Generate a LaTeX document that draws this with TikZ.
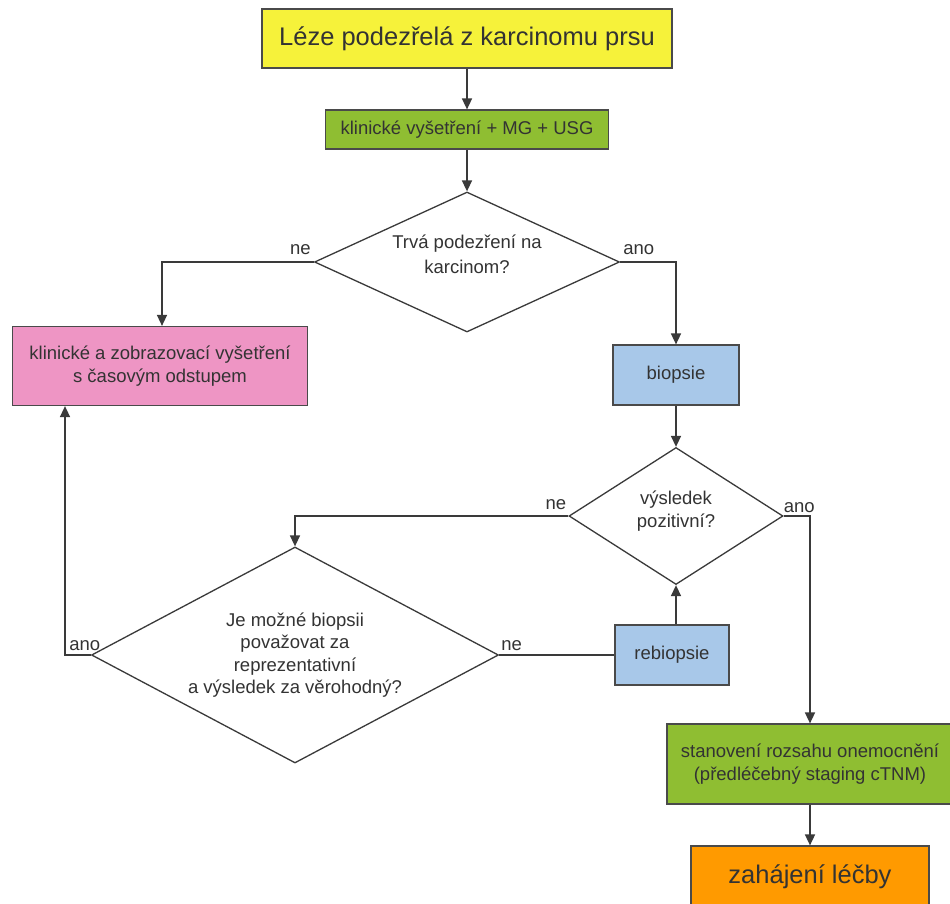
\documentclass[tikz,border=0pt]{standalone}
\usepackage{fontspec}
\setmainfont{Liberation Sans}
\usetikzlibrary{shapes.geometric,arrows.meta}
\definecolor{cyellow}{HTML}{F6F23A}
\definecolor{cgreen}{HTML}{8FBE32}
\definecolor{cpink}{HTML}{EE95C4}
\definecolor{cblue}{HTML}{A8C8E9}
\definecolor{corange}{HTML}{FF9A00}
\definecolor{edge}{HTML}{4A4A4A}
\definecolor{linec}{HTML}{3A3A3A}
\definecolor{txt}{HTML}{333333}
\begin{document}
\begin{tikzpicture}[x=1pt,y=-1pt,
  font=\fontsize{18.5}{22.5}\selectfont,
  box/.style={draw=edge, line width=1.2pt, rectangle, inner sep=2pt, align=center, text=txt},
  dia/.style={draw=linec, line width=1.3pt, diamond, aspect=2, inner sep=0pt, align=center, text=txt},
  conn/.style={draw=linec, line width=1.5pt},
  arr/.style={conn, -{Triangle[length=11pt,width=10pt]}},
  lbl/.style={text=txt, inner sep=1pt},
  big/.style={font=\fontsize{25.5}{30}\selectfont}]
\useasboundingbox (0,0) rectangle (950,903);
\fill[white] (0,0) rectangle (950,903);

\node[box, fill=cyellow, big, minimum width=410pt, minimum height=59pt] (start) at (467,38.5) {Léze podezřelá z karcinomu prsu};
\node[box, fill=cgreen, minimum width=283pt, minimum height=39pt] (exam) at (467,129.5) {klinické vyšetření + MG + USG};
\node[dia, minimum width=305pt, minimum height=140pt] (d1) at (467,262) {Trvá podezření na\\[3pt]karcinom?\\[-7pt]};
\node[box, fill=cpink, minimum width=295pt, minimum height=79pt] (pink) at (160,366) {klinické a zobrazovací vyšetření\\s časovým odstupem};
\node[box, fill=cblue, minimum width=126pt, minimum height=60pt] (biop) at (676,375) {biopsie};
\node[dia, minimum width=214pt, minimum height=137pt] (d2) at (676,516) {výsledek\\pozitivní?\\[-8.5pt]};
\node[dia, minimum width=407pt, minimum height=216pt] (d3) at (295,655) {Je možné biopsii\\považovat za\\reprezentativní\\a výsledek za věrohodný?};
\node[box, fill=cblue, minimum width=114pt, minimum height=60pt] (reb) at (672,655) {rebiopsie};
\node[box, fill=cgreen, minimum width=286pt, minimum height=80pt] (stag) at (810,764) {stanovení rozsahu onemocnění\\(předléčebný staging cTNM)};
\node[box, fill=corange, big, minimum width=238pt, minimum height=62pt] (treat) at (810,877) {zahájení léčby};

\draw[arr] (start) -- (exam);
\draw[arr] (exam) -- (d1);
\draw[arr] (d1.west) -| ([xshift=2pt]pink.north);
\draw[arr] (d1.east) -| (biop.north);
\draw[arr] (biop) -- (d2);
\draw[arr] (d2.west) -| (d3.north);
\draw[arr] (d2.east) -| (stag.north);
\draw[arr] (stag) -- (treat);
\draw[arr] (d3.west) -| ([xshift=-95pt]pink.south);
\draw[conn] (d3.east) -- (reb.west);
\draw[arr] (reb.north -| d2.south) -- (d2.south);

\node[lbl, anchor=south east] (l1) at ([xshift=-2pt,yshift=6pt]d1.west) {ne};
\node[lbl, anchor=south west] (l2) at ([xshift=2pt,yshift=6pt]d1.east) {ano};
\node[lbl, anchor=south east] (l3) at ([xshift=-1pt,yshift=5pt]d2.west) {ne};
\node[lbl, anchor=south west] (l4) at ([xshift=-1pt,yshift=2pt]d2.east) {ano};
\node[lbl, anchor=south] (l5) at ([xshift=-6pt,yshift=3pt]d3.west) {ano};
\node[lbl, anchor=south west] (l6) at ([xshift=1pt,yshift=3pt]d3.east) {ne};
\end{tikzpicture}
\end{document}
